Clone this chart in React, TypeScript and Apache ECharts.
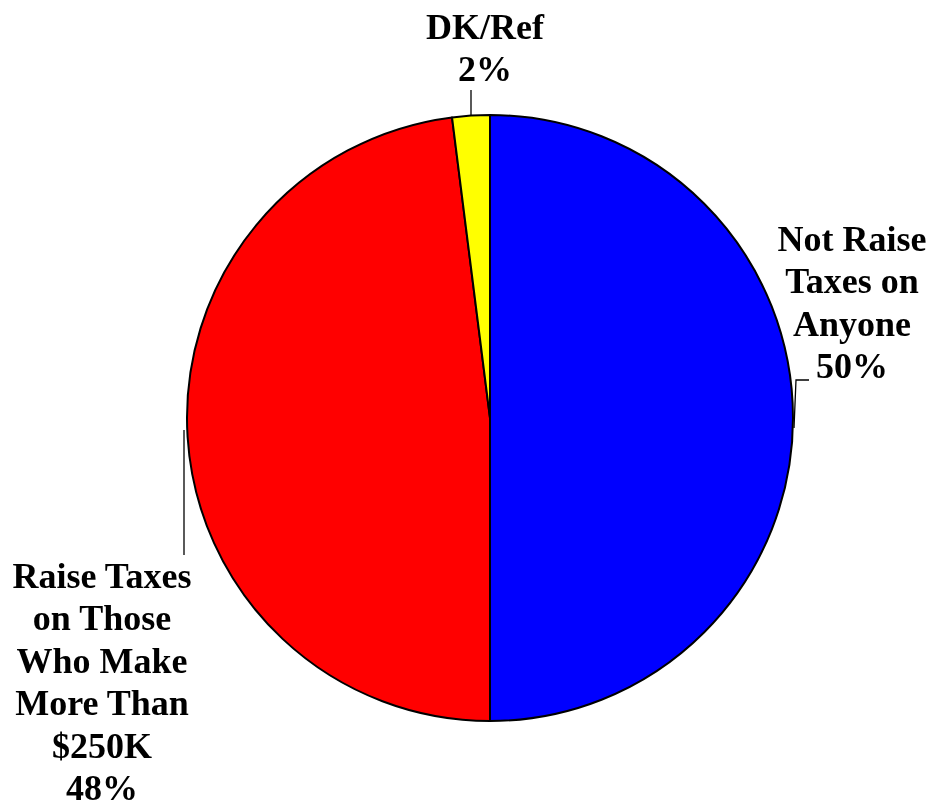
import React, { useEffect, useRef } from "react";
import * as echarts from "echarts";

const categories = [
  "Not Raise Taxes on Anyone",
  "Raise Taxes on Those Who Make More Than $250K",
  "DK/Ref",
];
// label text lines above each percentage
const labelTexts = [
  ["Not Raise", "Taxes on", "Anyone"],
  ["Raise Taxes", "on Those", "Who Make", "More Than", "$250K"],
  ["DK/Ref"],
];
const values = [50, 48, 2];
const colors = ["#0000FF", "#FF0000", "#FFFF00"];

const CX = 490;
const CY = 418;
const R = 303;
const FONT = "Liberation Serif";
const FS = 36;
const LH = 42.5;
// anchor (center x, center y of the percentage line) for each label block
const anchors = [
  [852, 366],
  [102, 788],
  [485, 69],
];

export default function App() {
  const ref = useRef<HTMLDivElement>(null);
  useEffect(() => {
    if (!ref.current) return;
    const chart = echarts.init(ref.current, undefined, { renderer: "svg" });
    const data = categories.map((name, i) => ({
      name,
      value: values[i],
      itemStyle: { color: colors[i] },
    }));
    const textEls: any[] = [];
    labelTexts.forEach((lines, i) => {
      const [ax, ay] = anchors[i];
      lines.forEach((line, j) => {
        textEls.push({
          type: "text",
          x: ax,
          y: ay - (lines.length - j) * LH,
          style: {
            text: line,
            align: "center",
            verticalAlign: "middle",
            fontFamily: FONT,
            fontWeight: "bold",
            fontSize: FS,
            fill: "#000000",
          },
        });
      });
    });
    chart.setOption({
      animation: false,
      graphic: textEls,
      series: [
        {
          type: "pie",
          center: [CX, CY],
          radius: [0, R],
          startAngle: 90,
          clockwise: true,
          avoidLabelOverlap: false,
          data,
          itemStyle: { borderColor: "#000000", borderWidth: 2 },
          label: {
            show: true,
            position: "outside",
            formatter: "{d}%",
            fontFamily: FONT,
            fontWeight: "bold",
            fontSize: FS,
            color: "#000000",
          },
          labelLine: {
            show: true,
            length: 10,
            length2: 10,
            lineStyle: { color: "#000000", width: 1.3 },
          },
          labelLayout: (params: any) => {
            const i = params.dataIndex;
            const [ax, ay] = anchors[i];
            let pts: number[][];
            if (i === 0) {
              pts = [
                [CX + R + 1, CY + 10],
                [CX + R + 3, CY - 38],
                [CX + R + 16, CY - 38],
              ];
            } else if (i === 1) {
              pts = [
                [CX - R - 3, CY + 12],
                [CX - R - 3, CY + 80],
                [CX - R - 3, CY + 137],
              ];
            } else {
              pts = [
                [471, CY - R],
                [471, CY - R - 12],
                [471, CY - R - 25],
              ];
            }
            return {
              x: ax,
              y: ay,
              align: "center",
              verticalAlign: "middle",
              labelLinePoints: pts,
            };
          },
        },
      ],
    });
    return () => chart.dispose();
  }, []);
  return (
    <div
      ref={ref}
      style={{ position: "fixed", left: 0, top: 0, width: 933, height: 807 }}
    />
  );
}
